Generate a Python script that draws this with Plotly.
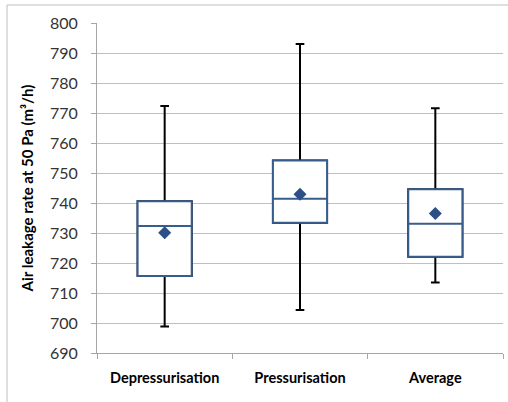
import plotly.graph_objects as go

categories = ["Depressurisation", "Pressurisation", "Average"]
q1 = [715.7, 733.4, 722.1]
median = [732.3, 741.4, 733.1]
q3 = [740.6, 754.2, 744.6]
lower = [698.8, 704.3, 713.5]
upper = [772.3, 793.0, 771.6]
means = [730.1, 742.9, 736.5]
y_ticks = list(range(690, 801, 10))

FONT = "Lato"
BLUE = "#385D8A"

fig = go.Figure()
# whiskers (black)
fig.add_trace(go.Box(
    x=categories, q1=q1, median=median, q3=q3,
    lowerfence=lower, upperfence=upper,
    line=dict(color="black", width=2), fillcolor="white",
    whiskerwidth=0.16, width=0.4, boxpoints=False, showlegend=False,
    hoverinfo="skip",
))
# boxes (blue)
fig.add_trace(go.Box(
    x=categories, q1=q1, median=median, q3=q3,
    lowerfence=q1, upperfence=q3,
    line=dict(color=BLUE, width=2), fillcolor="white",
    whiskerwidth=0, width=0.4, boxpoints=False, showlegend=False,
))
# means
fig.add_trace(go.Scatter(
    x=categories, y=means, mode="markers",
    marker=dict(symbol="diamond", size=10, color="#2B4F86"),
    showlegend=False,
))

fig.update_layout(
    width=508, height=402,
    margin=dict(l=97, r=5, t=23, b=49),
    paper_bgcolor="white", plot_bgcolor="white",
    boxmode="overlay",
    font=dict(family=FONT, size=14, color="#262626"),
    xaxis=dict(
        range=[-0.5, 2.5],
        tickson="boundaries", ticks="outside", ticklen=5, tickcolor="#A6A6A6",
        showline=True, linecolor="#A6A6A6", linewidth=1,
        showgrid=False, ticklabelstandoff=12,
        tickfont=dict(family=FONT, size=14.5, color="black", weight="bold"),
    ),
    yaxis=dict(
        range=[690, 800], tickvals=y_ticks,
        ticks="outside", ticklen=5, tickcolor="#A6A6A6",
        showline=True, linecolor="#A6A6A6", linewidth=1,
        showgrid=True, gridcolor="#BFBFBF", gridwidth=1,
        zeroline=False, ticklabelstandoff=10,
        tickfont=dict(family=FONT, size=16, color="#333333"),
        title=dict(text="Air leakage rate at 50 Pa (m³/h)",
                   font=dict(family=FONT, size=15, color="black", weight="bold"),
                   standoff=12),
    ),
    shapes=[dict(type="rect", xref="paper", yref="paper",
                 x0=(7 - 97) / 406, x1=1.2, y0=-0.3, y1=(353 - 5) / 330,
                 line=dict(color="#BFBFBF", width=1), layer="below")],
)

fig.write_html("out.html", config={"displayModeBar": False},
               post_script="document.body.style.margin='0';document.body.style.overflow='hidden';")
